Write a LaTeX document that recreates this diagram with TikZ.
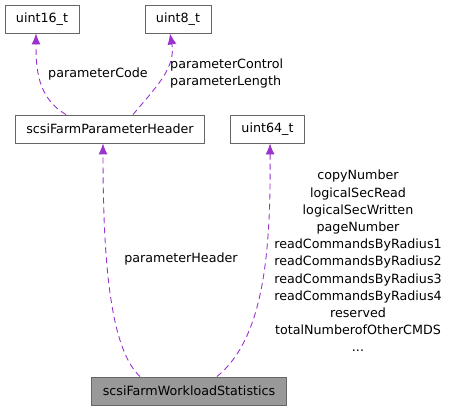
\documentclass[tikz,border=0pt]{standalone}
\usepackage{fontspec}
\setmainfont{DejaVu Sans}
\usepackage{tikz}
\usetikzlibrary{positioning}
\usetikzlibrary{arrows.meta}
\definecolor{edge_color}{RGB}{154, 50, 205}
\definecolor{box_border}{RGB}{102, 102, 102}
\definecolor{box_fill}{RGB}{153, 153, 153}

\begin{document}
\begin{tikzpicture}[
    x=1pt, y=-1pt,
    cls/.style={draw=box_border, line width=0.9pt, fill=white,
                minimum height=28pt, inner xsep=11pt, inner ysep=0pt,
                font=\fontsize{12.7}{17.2}\selectfont},
    uses/.style={draw=edge_color, line width=0.9pt, dash pattern=on 6pt off 4pt,
                 -{Latex[length=11pt, width=9pt]}},
    lbl/.style={align=center, inner sep=0pt,
                font=\fontsize{12.7}{17.2}\selectfont},
    >=Latex]
    \useasboundingbox (0,0) rectangle (450,411);
    \node[cls] (u16) at (42,19) {uint16\_t};
    \node[cls] (u8) at (178,19) {uint8\_t};
    \node[cls] (hdr) at (110,129) {scsiFarmParameterHeader};
    \node[cls] (u64) at (267.5,129) {uint64\_t};
    \node[cls, fill=box_fill] (wls) at (189,391) {scsiFarmWorkloadStatistics};
    \draw[uses] ([xshift=-44pt]hdr.north) to[out=150, in=-90]
      ([xshift=-6pt]u16.south);
    \draw[uses] ([xshift=23pt]hdr.north) to[out=50, in=-80]
      ([xshift=-8pt]u8.south);
    \draw[uses] ([xshift=-49pt]wls.north) .. controls +(-30,-28) and +(0,117)
      .. ([xshift=-7pt]hdr.south);
    \draw[uses] ([xshift=28pt]wls.north) .. controls +(45,-37) and +(1,117)
      .. ([xshift=2.5pt]u64.south);
    \node[lbl] (codelbl) at (98,74) {parameterCode};
    \node[lbl, align=left, anchor=west] (ctrllbl) at (170,73.5)
      {parameterControl\\parameterLength};
    \node[lbl] (hdrlbl) at (181,259) {parameterHeader};
    \node[lbl] (statlbl) at (358,261) {copyNumber\\logicalSecRead\\
      logicalSecWritten\\pageNumber\\readCommandsByRadius1\\
      readCommandsByRadius2\\readCommandsByRadius3\\
      readCommandsByRadius4\\reserved\\totalNumberofOtherCMDS\\...};
\end{tikzpicture}
\end{document}
